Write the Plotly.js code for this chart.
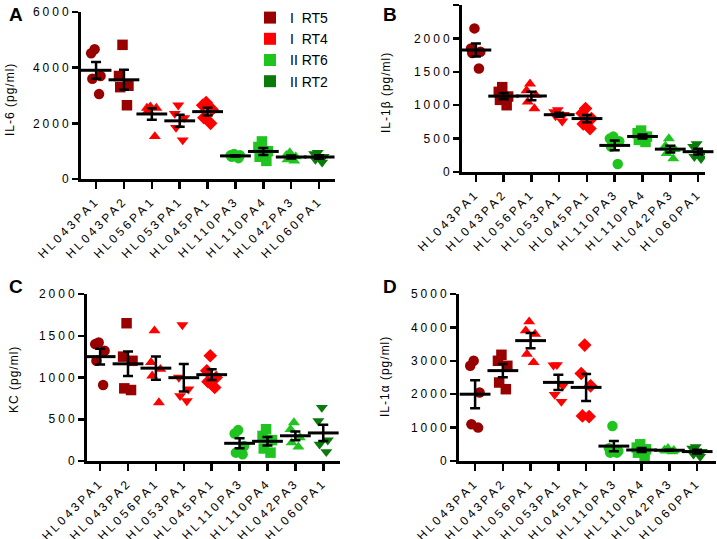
<!DOCTYPE html>
<html><head><meta charset="utf-8">
<script src="https://cdn.plot.ly/plotly-3.0.1.min.js"></script>
<style>
html,body{margin:0;padding:0;background:#fff;}
#chart{width:717px;height:539px;}
.xaxislayer-above text,.yaxislayer-above text{letter-spacing:3px;}
.annotation-text{letter-spacing:1px;}
</style></head><body><div id="chart"></div><script>
const strains = ['HL043PA1','HL043PA2','HL056PA1','HL053PA1','HL045PA1','HL110PA3','HL110PA4','HL042PA3','HL060PA1'];
const strainGroup = ['RT5','RT5','RT4','RT4','RT4','RT6','RT6','RT6','RT2'];
const groupNames = ['RT5','RT4','RT6','RT2'];
const groupLabels = ['I\u00a0\u00a0RT5','I\u00a0\u00a0RT4','II\u00a0RT6','II\u00a0RT2'];
const groupColors = {RT5:'#990000', RT4:'#ff0000', RT6:'#1fc41f', RT2:'#0a7a0a'};
const strainSymbol = ['circle','square','triangle-up','triangle-down','diamond','circle','square','triangle-up','triangle-down'];

// IL-6 (pg/ml)
const il6 = [
  [4520,4660,3700,3600,3050],
  [4820,3700,3350,3300,2650],
  [2600,2550,2450,2550,1530],
  [2650,2350,2200,1850,1400],
  [2750,2650,2500,2200,2000],
  [900,850,800,750,850],
  [1350,1150,1000,800,650],
  [950,850,800,700,650],
  [950,900,800,700,600]
];
// IL-1beta (pg/ml)
const il1b = [
  [2150,1850,1800,1780,1550],
  [1270,1200,1130,1080,1000],
  [1320,1220,1150,1050,950],
  [930,900,860,840,760],
  [950,880,800,720,650],
  [530,500,460,380,120],
  [620,580,530,480,450],
  [500,390,340,280,200],
  [420,380,290,230,200]
];
// KC (pg/ml)
const kc = [
  [1400,1420,1320,1200,910],
  [1650,1250,1200,870,850],
  [1560,1180,1100,1020,700],
  [1630,1000,860,780,720],
  [1260,1080,1000,950,880],
  [370,330,180,100,80],
  [380,300,250,150,100],
  [460,380,280,220,170],
  [640,480,250,200,110]
];
// IL-1alpha (pg/ml)
const il1a = [
  [2850,3000,2050,1100,1000],
  [3180,3000,2850,2350,2150],
  [4170,3900,3800,3200,2950],
  [2880,2870,2250,1990,1780],
  [3470,2620,2250,1350,1330],
  [1050,380,300,250,250],
  [500,400,350,250,150],
  [380,330,320,300,280],
  [420,380,280,200,130]
];

const panels = [
  {data: il6,  title: 'IL-6 (pg/ml)', ticks:[0,2000,4000,6000], range:[0,6000], letter:'A'},
  {data: il1b, title: 'IL-1\u03b2 (pg/ml)', ticks:[0,500,1000,1500,2000,2500], range:[0,2500], letter:'B'},
  {data: kc,   title: 'KC (pg/ml)', ticks:[0,500,1000,1500,2000], range:[0,2000], letter:'C'},
  {data: il1a, title: 'IL-1\u03b1 (pg/ml)', ticks:[0,1000,2000,3000,4000,5000], range:[0,5000], letter:'D'}
];

// layout geometry (pixels)
const W = 717, H = 539;
const geo = [
  {x0:81,  x1:335, yTop:12,  yBot:179, xr:[-0.54,8.57], lx:7,   ly:2,   tx:10,  ty:100},
  {x0:462, x1:705, yTop:5,   yBot:172, xr:[-0.50,8.25], lx:381, ly:2,   tx:386, ty:93},
  {x0:87,  x1:340, yTop:294, yBot:461, xr:[-0.47,8.6],  lx:7,   ly:274, tx:14,  ty:380},
  {x0:459, x1:716, yTop:294, yBot:461, xr:[-0.58,8.68], lx:381, ly:274, tx:385, ty:377}
];

function mean(a){return a.reduce((s,v)=>s+v,0)/a.length;}
function sem(a){const m=mean(a);const v=a.reduce((s,x)=>s+(x-m)*(x-m),0)/(a.length-1);return Math.sqrt(v/a.length);}

const traces = [];
const layout = {
  width: W, height: H,
  margin:{l:0,r:0,t:0,b:0},
  paper_bgcolor:'#fff', plot_bgcolor:'rgba(0,0,0,0)',
  showlegend:true,
  font:{family:'Arial, "Liberation Sans", sans-serif', color:'#000', size:12},
  boxmode:'overlay',
  legend:{x:250/W, y:1-2/H, xanchor:'left', yanchor:'top', font:{size:14, color:'#000'}, bgcolor:'rgba(0,0,0,0)', itemwidth:30, tracegroupgap:0},
  annotations:[]
};

panels.forEach((p,i)=>{
  const g = geo[i];
  const xa = i===0?'x':'x'+(i+1);
  const ya = i===0?'y':'y'+(i+1);
  const xkey = i===0?'xaxis':'xaxis'+(i+1);
  const ykey = i===0?'yaxis':'yaxis'+(i+1);
  layout[xkey] = {
    domain:[g.x0/W, g.x1/W], anchor:ya, type:'category',
    categoryorder:'array', categoryarray:strains, range:g.xr,
    showline:true, linewidth:3, linecolor:'#000', showgrid:false, zeroline:false,
    ticks:'outside', ticklen:7, tickwidth:2.5, tickcolor:'#000',
    tickangle:-45, tickfont:{size:12, color:'#000'}, fixedrange:true
  };
  layout[ykey] = {
    domain:[1-g.yBot/H, 1-g.yTop/H], anchor:xa, range:p.range,
    tickvals:p.ticks, ticktext:p.ticks.map(String),
    showline:true, linewidth:3, linecolor:'#000', showgrid:false, zeroline:false,
    ticks:'outside', ticklen:6, tickwidth:2.5, tickcolor:'#000',
    tickfont:{size:12, color:'#000'}, ticklabelstandoff:-2, fixedrange:true
  };
  layout.annotations.push({
    xref:'paper', yref:'paper', x:g.lx/W, y:1-g.ly/H, xanchor:'left', yanchor:'top',
    text:'<b>'+p.letter+'</b>', showarrow:false, font:{size:19, color:'#000'}
  });
  layout.annotations.push({
    xref:'paper', yref:'paper', x:g.tx/W, y:1-g.ty/H, xanchor:'center', yanchor:'middle',
    text:p.title, textangle:-90, showarrow:false, font:{size:12, color:'#000'}
  });
  strains.forEach((s,k)=>{
    const vals = p.data[k];
    traces.push({
      type:'box', x:vals.map(()=>s), y:vals, xaxis:xa, yaxis:ya,
      boxpoints:'all', jitter:0.85, pointpos:0,
      fillcolor:'rgba(0,0,0,0)', line:{width:0, color:'rgba(0,0,0,0)'}, whiskerwidth:0,
      marker:{color:groupColors[strainGroup[k]], symbol:strainSymbol[k], size:10.5, line:{width:0}},
      showlegend:false, hoverinfo:'skip'
    });
  });
  traces.push({
    type:'scatter', mode:'markers', x:strains, y:p.data.map(mean), xaxis:xa, yaxis:ya,
    marker:{symbol:'line-ew', size:22, color:'#000', line:{width:3, color:'#000'}},
    error_y:{type:'data', array:p.data.map(sem), visible:true, color:'#000', thickness:2.5, width:5},
    showlegend:false, hoverinfo:'skip', cliponaxis:false
  });
});

groupNames.forEach((gname,j)=>{
  traces.push({
    type:'scatter', mode:'markers', x:[null], y:[null], xaxis:'x', yaxis:'y',
    name:groupLabels[j], marker:{symbol:'square', size:12, color:groupColors[gname]},
    showlegend:true, hoverinfo:'skip'
  });
});

Plotly.newPlot('chart', traces, layout, {staticPlot:true, displayModeBar:false});
</script></body></html>
